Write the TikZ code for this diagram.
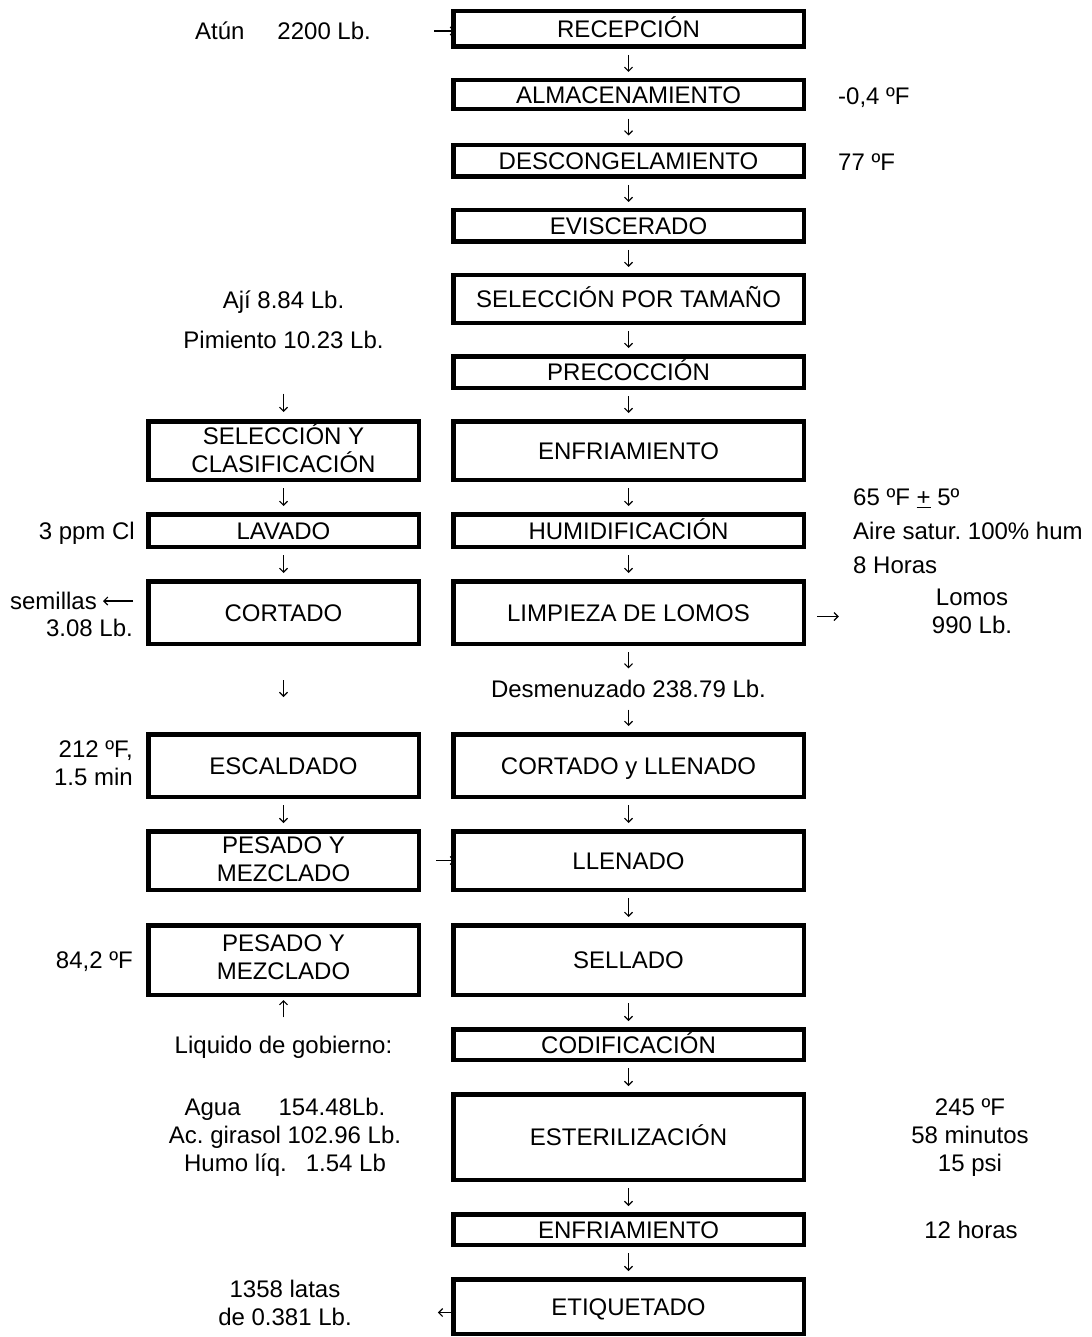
\documentclass[tikz,border=0pt]{standalone}
\usepackage{fontspec}
\setmainfont{Liberation Sans}
\usetikzlibrary{arrows.meta}
\newcommand\tstrut{\rule[-5.8pt]{0pt}{28.8pt}}
\frenchspacing
\begin{document}
\begin{tikzpicture}[x=1pt,y=-1pt,
  every node/.style={inner sep=0pt, font={\fontsize{24}{28}\selectfont\lineskiplimit=-20pt\frenchspacing},
    execute at begin node=\tstrut, execute at end node=\tstrut},
  box/.style={draw, line width=4.5pt, minimum width=#1, align=center},
  mbox/.style={box=350.5pt, minimum height=#1},
  lbox/.style={box=270.5pt, minimum height=#1},
  lbl/.style={align=center},
  flow/.style={-{Straight Barb[length=4pt,width=8pt]}, line width=1.1pt},
  va/.style={flow, shorten <=6pt, shorten >=6pt},
]
\path[use as bounding box, fill=white] (0,0) rectangle (1091,1337);

% main column
\node[mbox=35.5pt] (rec) at (628.5,29) {RECEPCIÓN};
\node[mbox=28.5pt] (alm) at (628.5,94.5) {ALMACENAMIENTO};
\node[mbox=31.5pt] (des) at (628.5,161) {DESCONGELAMIENTO};
\node[mbox=31.5pt] (evi) at (628.5,226) {EVISCERADO};
\node[mbox=47.5pt] (sel) at (628.5,299) {SELECCIÓN POR TAMAÑO};
\node[mbox=31.5pt] (pre) at (628.5,372) {PRECOCCIÓN};
\node[mbox=58.5pt] (enf) at (628.5,450.5) {ENFRIAMIENTO};
\node[mbox=32.5pt] (hum) at (628.5,530.5) {HUMIDIFICACIÓN};
\node[mbox=62.5pt] (lim) at (628.5,612.5) {LIMPIEZA DE LOMOS};
\node[mbox=62.5pt] (cyl) at (628.5,765.5) {CORTADO y LLENADO};
\node[mbox=58.5pt] (lle) at (628.5,860.5) {LLENADO};
\node[mbox=69.5pt] (sell) at (628.5,960) {SELLADO};
\node[mbox=30.5pt] (cod) at (628.5,1044.5) {CODIFICACIÓN};
\node[mbox=85.5pt] (est) at (628.5,1137) {ESTERILIZACIÓN};
\node[mbox=30.5pt] (enf2) at (628.5,1229.5) {ENFRIAMIENTO};
\node[mbox=54.5pt] (eti) at (628.5,1306.5) {ETIQUETADO};

% left column
\node[lbox=58.5pt] (syc) at (283.5,450.5) {SELECCIÓN Y\\CLASIFICACIÓN};
\node[lbox=32.5pt] (lav) at (283.5,530.5) {LAVADO};
\node[lbox=62.5pt] (cor) at (283.5,612.5) {CORTADO};
\node[lbox=62.5pt] (esc) at (283.5,765.5) {ESCALDADO};
\node[lbox=58.5pt] (pes1) at (283.5,860.5) {\raisebox{-3pt}{PESADO Y}\\\raisebox{-3pt}{MEZCLADO}};
\node[lbox=69.5pt] (pes2) at (283.5,960) {PESADO Y\\MEZCLADO};

% labels
\node (atun) at (283,31) {Atún\hspace{33pt}2200 Lb.};
\node[anchor=west] (t1) at (838,96) {-0,4 ºF};
\node[anchor=west] (t2) at (838,162) {77 ºF};
\node (aji) at (283.5,300) {Ají 8.84 Lb.};
\node (pim) at (283.5,340) {Pimiento 10.23 Lb.};
\node[anchor=east] (cl) at (135,531) {3 ppm Cl};
\node[anchor=west, align=left, font={\fontsize{24}{34}\selectfont\lineskiplimit=-20pt\frenchspacing}] (hcond) at (853,534)
  {65 ºF \underline{+} 5º\\Aire satur. 100\% hum\\8 Horas};
\node[anchor=east] (sem) at (97,601) {semillas};
\node[anchor=east] (semlb) at (133,628) {3.08 Lb.};
\node[lbl] (lomos) at (972,614.5) {Lomos\\990 Lb.};
\node (desm) at (628.5,689) {Desmenuzado 238.79 Lb.};
\node[anchor=east, align=right] (esct) at (133,766) {212 ºF,\\1.5 min};
\node[anchor=east] (mzt) at (133,960) {84,2 ºF};
\node (liq) at (283.5,1045) {Liquido de gobierno:};
\node[lbl] (ingr) at (285,1137.5)
  {Agua\hspace{38pt}154.48Lb.\\Ac. girasol 102.96 Lb.\\Humo líq.\hspace{19pt}1.54 Lb};
\node[lbl] (estt) at (970,1137.5) {245 ºF\\58 minutos\\15 psi};
\node (hrs) at (971,1230) {12 horas};
\node[lbl] (latas) at (285,1306) {1358 latas\\de 0.381 Lb.};

% main flow arrows
\draw[va] (rec) -- (alm);
\draw[va, shorten <=7.5pt, shorten >=7.5pt] (alm) -- (des);
\draw[va] (des) -- (evi);
\draw[va] (evi) -- (sel);
\draw[va] (sel) -- (pre);
\draw[va] (pre) -- (enf);
\draw[va] (enf) -- (hum);
\draw[va] (hum) -- (lim);
\draw[va] (lim) -- (desm);
\draw[va] (desm) -- (cyl);
\draw[va] (cyl) -- (lle);
\draw[va] (lle) -- (sell);
\draw[va] (sell) -- (cod);
\draw[va] (cod) -- (est);
\draw[va] (est) -- (enf2);
\draw[va] (enf2) -- (eti);

% left flow arrows
\draw[flow, shorten <=39pt, shorten >=7pt] (pim) -- (syc);
\draw[va] (syc) -- (lav);
\draw[va] (lav) -- (cor);
\draw[flow, shorten <=34pt, shorten >=35pt] (cor) -- (esc);
\draw[va] (esc) -- (pes1);
\draw[flow, shorten <=13pt, shorten >=3pt] (liq) -- (pes2);

% side arrows
\draw[flow, shorten <=63pt, shorten >=-4pt] (atun.east) -- (atun.east -| rec.west);
\draw[flow, shorten <=15pt, shorten >=-4pt] (pes1) -- (lle);
\draw[flow, shorten <=11pt, shorten >=93pt] ([yshift=-4pt]lim.east) -- ([yshift=-4pt]lim.east -| lomos.west);
\draw[flow, shorten <=13pt, shorten >=6pt] (cor.west |- sem.east) -- (sem.east);
\draw[flow, shorten <=-5pt, shorten >=86pt] ([yshift=-6pt]eti.west) -- ([yshift=-6pt]eti.west -| latas.east);
\end{tikzpicture}
\end{document}
